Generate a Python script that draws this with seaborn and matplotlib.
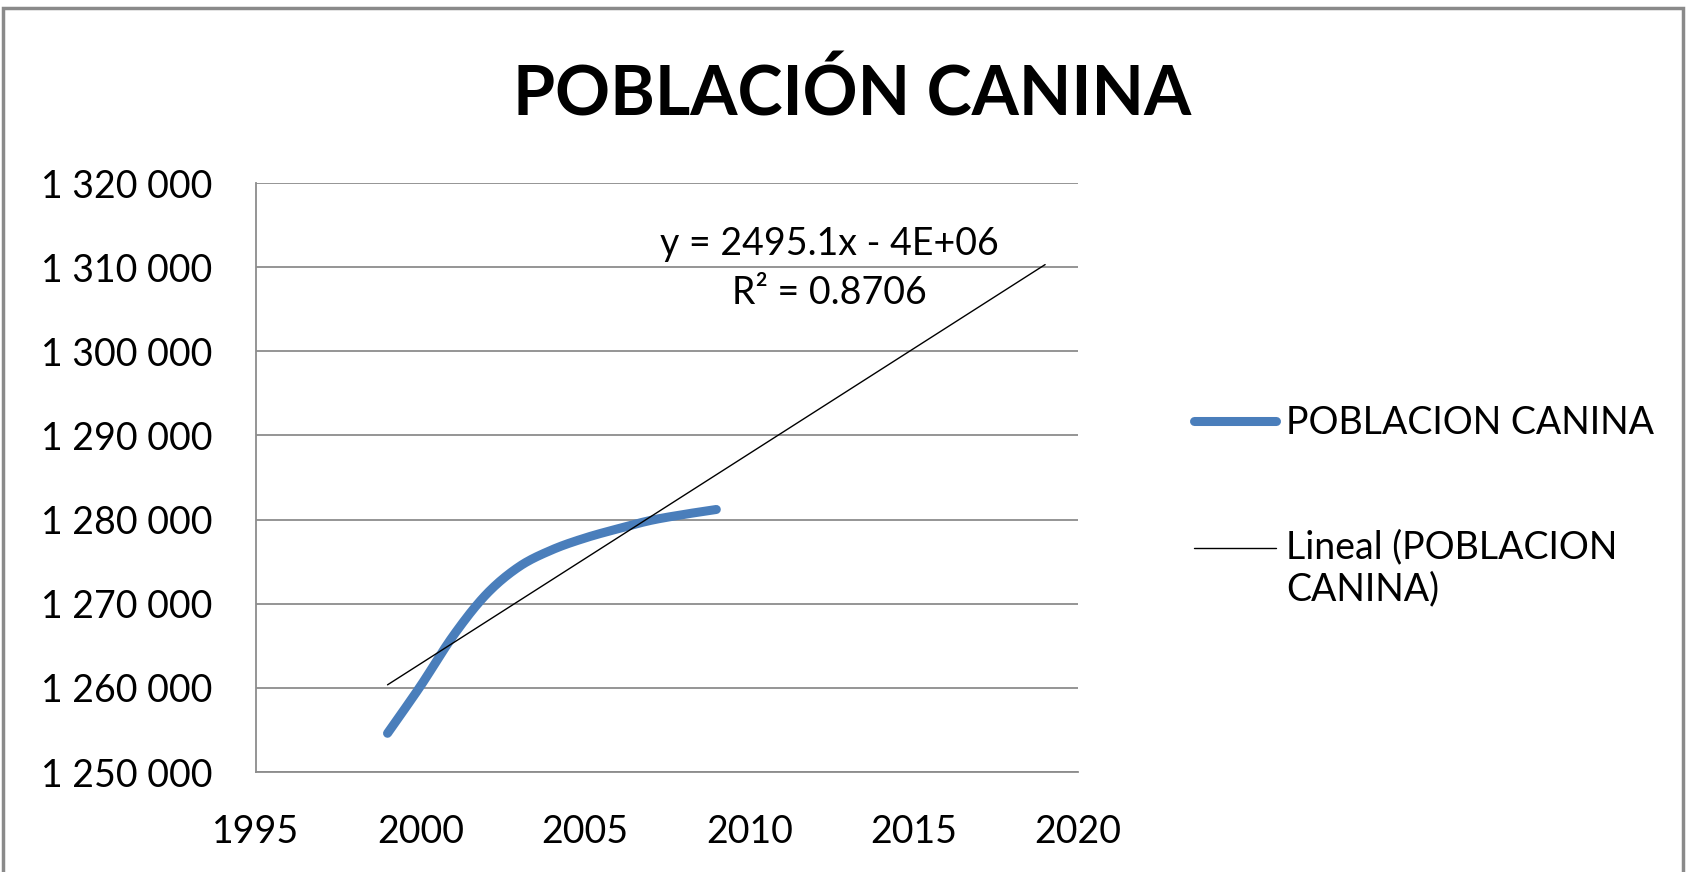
import numpy as np
import pandas as pd
import matplotlib
matplotlib.use("Agg")
import matplotlib.pyplot as plt
import seaborn as sns
from matplotlib.ticker import FuncFormatter, MultipleLocator
from matplotlib.patches import Rectangle
from matplotlib.legend_handler import HandlerLine2D

# data
years = [1999, 2000, 2001, 2002, 2003, 2004, 2005, 2006, 2007, 2008, 2009]
poblacion = [1254600, 1260200, 1266200, 1271100, 1274400, 1276400,
             1277800, 1278900, 1279900, 1280600, 1281200]
trend_years = [1999, 2019]
eq_text = "y = 2495.1x - 4E+06"
r2_text = "R² = 0.8706"
series_label = "POBLACION CANINA"
trend_label = "Lineal (POBLACION\nCANINA)"
title = "POBLACIÓN CANINA"

BLUE = "#4A7EBB"
GRID = "#8C8C8C"
FS = 27


def smooth(xs, ys, n=24):
    # Excel-style smoothed line (Catmull-Rom via cubic bezier)
    p = np.column_stack([xs, ys]).astype(float)
    p = np.vstack([2 * p[0] - p[1], p, 2 * p[-1] - p[-2]])
    out = []
    for i in range(1, len(p) - 2):
        p0, p1, p2, p3 = p[i - 1], p[i], p[i + 1], p[i + 2]
        c1 = p1 + (p2 - p0) / 6
        c2 = p2 - (p3 - p1) / 6
        t = np.linspace(0, 1, n, endpoint=(i == len(p) - 3))[:, None]
        out.append((1 - t) ** 3 * p1 + 3 * (1 - t) ** 2 * t * c1
                   + 3 * (1 - t) * t ** 2 * c2 + t ** 3 * p2)
    return np.vstack(out)


class TopLineHandler(HandlerLine2D):
    # put the legend line next to the first text line, like Excel
    def __init__(self, shift=0, **kw):
        super().__init__(**kw)
        self.shift = shift

    def create_artists(self, legend, orig_handle, xdescent, ydescent,
                       width, height, fontsize, trans):
        arts = super().create_artists(legend, orig_handle, xdescent, ydescent,
                                      width, height, fontsize, trans)
        for a in arts:
            a.set_ydata(np.asarray(a.get_ydata()) + self.shift)
        return arts


sns.set_style("white")
plt.rcParams["font.family"] = ["Lato", "DejaVu Sans"]
plt.rcParams["text.color"] = "black"

fig = plt.figure(figsize=(16.88, 8.72), dpi=100)
fig.patches.append(Rectangle((3 / 1688, -0.1), 1680 / 1688, 1.1 - 8 / 872,
                             transform=fig.transFigure, fill=False,
                             edgecolor="#8a8a8a", lw=2.5))
ax = fig.add_axes([256 / 1688, 1 - 772 / 872, 822 / 1688, 589 / 872])

curve = smooth(years, poblacion)
df_curve = pd.DataFrame({"year": curve[:, 0], "value": curve[:, 1]})
sns.lineplot(data=df_curve, x="year", y="value", sort=False, ax=ax,
             color=BLUE, lw=6.5, solid_capstyle="round", label=series_label,
             zorder=3)

coef = np.polyfit(years, poblacion, 1)
df_trend = pd.DataFrame({"year": trend_years,
                         "value": np.polyval(coef, trend_years)})
sns.lineplot(data=df_trend, x="year", y="value", ax=ax, color="black",
             lw=1.0, label=trend_label, zorder=4)

ax.set_xlim(1995, 2020)
ax.set_ylim(1250000, 1320000)
ax.xaxis.set_major_locator(MultipleLocator(5))
ax.yaxis.set_major_locator(MultipleLocator(10000))
ax.yaxis.set_major_formatter(FuncFormatter(lambda v, _: f"{int(v):,}".replace(",", " ")))
ax.set_xlabel("")
ax.set_ylabel("")
ax.grid(axis="y", color=GRID, lw=1.3)
ax.grid(axis="x", visible=False)
for s in ["top", "right"]:
    ax.spines[s].set_visible(False)
for s in ["left", "bottom"]:
    ax.spines[s].set_color(GRID)
    ax.spines[s].set_linewidth(1.3)
ax.tick_params(axis="both", which="major", direction="out", length=10.5,
               width=1.3, color=GRID, labelsize=FS, labelcolor="black")
ax.tick_params(axis="y", pad=21)
ax.tick_params(axis="x", pad=20)

ax.text(2012.43, 1311440, eq_text, ha="center", va="baseline", fontsize=FS)
ax.text(2012.43, 1305610, r2_text, ha="center", va="baseline", fontsize=FS)

fig.text(852 / 1688, 1 - 115 / 872, title, ha="center", va="baseline",
         fontsize=49, fontweight="bold", color="black")

h, l = ax.get_legend_handles_labels()
ax.legend(h, l, loc="upper left", bbox_to_anchor=(1160 / 1688, 1 - 371 / 872),
          bbox_transform=fig.transFigure, frameon=False, fontsize=FS,
          handlelength=2.2, handletextpad=0.27, labelspacing=2.37,
          handler_map={h[1]: TopLineHandler(shift=16)})

fig.savefig("out.png", dpi=100)
